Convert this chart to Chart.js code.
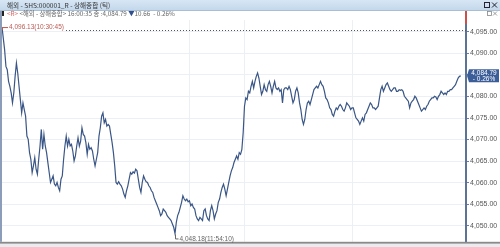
<!DOCTYPE html>
<html><head><meta charset="utf-8">
<script src="https://cdn.jsdelivr.net/npm/chart.js@4/dist/chart.umd.min.js"></script>
<style>
html,body{margin:0;padding:0;background:#fff;overflow:hidden}
#wrap{position:relative;width:500px;height:247px}
canvas{display:block}
</style></head><body>
<div id="wrap"><canvas id="c" width="500" height="247"></canvas></div>
<script>
const titleText = '해외 - SHS:000001_R - 상해종합 (틱)';
const infoParts = [['<R>', '#d4605a'], [' <해외 - 상해종합> 16:00:35 종 :4,084.79 ', '#666'], ['▼', '#2f4f8f'], ['10.66', '#666'], ['  - 0.26%', '#666']];

const morningA = [4096.13,4093.5,4090.84,4086.99,4086.22,4083.52,4082.37,4080.82,4078.51,4080.82,4084.68,4087.76,4085.45,4082.37,4079.28,4076.20,4078.51,4076.97,4075.43,4070.81,4070.04,4066.96,4065.42,4062.33,4063.88,4065.80,4063.10,4061.95,4065.42,4068.50,4072.35,4067.73,4071.19,4068.50,4066.96,4064.65,4062.33,4060.02,4060.79,4061.56,4059.64,4059.25,4060.02,4058.87,4058.10,4060.79,4061.56,4065.42,4068.50,4070.81,4068.50,4070.04,4068.50,4068.88,4067.34,4065.03,4066.19,4068.50,4070.42,4068.50,4069.65,4072.73,4071.19,4070.81,4069.27,4066.57,4068.88,4067.73,4068.11,4067.34,4065.42,4063.88,4065.42,4066.96,4070.81,4072.73,4075.43,4076.20,4073.89,4074.66,4073.12,4073.50,4073.12,4071.19];
const morningB = [4069.27,4066.96,4063.88,4060.02,4059.64,4060.18,4059.64,4059.25,4058.48,4057.33,4056.56,4058.10,4059.25,4060.79,4062.33,4061.95,4062.49,4062.18,4063.10,4062.72,4060.79,4058.87,4057.71,4060.02,4061.56,4060.79,4060.18,4060.02,4059.25,4058.87,4058.10,4057.71,4056.56,4055.79,4055.02,4054.24,4053.47,4052.32,4052.70,4053.86,4053.47,4053.09,4052.32,4051.93,4051.55,4051.16,4050.39,4049.62,4048.18,4050.78,4052.32,4053.09,4054.24,4055.40,4056.94,4056.17,4055.79,4056.17,4055.55,4055.79,4054.63,4055.02,4054.24,4053.86,4052.32,4051.55,4051.16,4051.93,4051.55,4051.16,4053.47,4053.86,4052.32,4051.55,4051.16,4053.47,4054.63,4053.47,4051.55,4052.70,4053.47,4055.40,4056.17];
const afternoonA = [4057.71,4058.87,4059.64,4058.48,4056.94,4058.48,4060.02,4061.56,4062.72,4063.49,4064.65,4065.42,4066.19,4065.42,4066.96,4066.57,4067.73,4071.58,4077.74,4079.67,4079.28,4081.21,4080.82,4082.37,4083.52,4081.98,4083.52,4084.68,4085.45,4084.29,4082.37,4080.44,4081.21,4082.75,4081.59,4081.21,4082.75,4083.52,4082.37,4080.82,4082.37,4083.52,4081.98,4081.59,4081.98,4081.21,4081.59,4078.51,4081.59,4081.98,4081.98,4081.59,4082.37,4081.59,4080.05,4078.51,4079.28,4081.21,4081.98,4080.82,4078.51,4076.97,4074.66,4073.51,4074.66,4076.97,4078.51,4078.90,4078.13,4079.28,4080.44,4081.59,4081.98,4082.37,4081.98,4082.75,4083.52,4082.75,4082.37,4081.21,4079.67,4079.28,4078.51];
const afternoonB = [4077.36,4076.97,4075.82,4075.43,4076.59,4077.36,4076.97,4077.74,4078.13,4077.74,4076.97,4076.59,4077.36,4078.51,4078.13,4077.74,4076.97,4077.36,4077.36,4076.20,4075.05,4074.66,4074.28,4073.51,4074.28,4075.05,4074.28,4075.82,4076.20,4076.97,4077.74,4078.51,4078.13,4077.36,4077.36,4076.97,4077.36,4077.74,4079.67,4081.59,4082.37,4081.21,4081.98,4082.75,4083.14,4082.37,4081.59,4081.21,4081.59,4081.98,4081.98,4081.21,4081.21,4081.59,4081.44,4081.59,4081.21,4080.05,4079.67,4079.28,4078.90,4077.36,4078.51,4078.90,4079.28,4080.05,4079.67,4078.90,4078.13,4077.36,4076.59,4076.97,4077.36,4076.97,4077.74,4078.13,4078.90,4079.28,4079.67,4079.67,4080.05,4079.90,4079.28,4080.05,4080.44,4081.21,4080.82,4080.44,4080.82,4080.44,4081.21,4081.21,4081.59,4081.59,4081.98,4082.37,4082.75,4083.52,4084.29,4084.68,4084.79];

const yTicks = [4050,4055,4060,4065,4070,4075,4080,4085,4090,4095];
const yMin = 4046.24, yMax = 4097.77;
const xMax = 354;
const timeGridIdx = [143, 185, 267];
const prevClose = 4095.45;
const highLabel = '4,096.13(10:30:45)';
const lowLabel = '4,048.18(11:54:10)';
const lastLabel = '4,084.79';
const pctLabel = '- 0.26%';

const series = [].concat(morningA, morningB, afternoonA, afternoonB);
const points = series.map((v, i) => ({x: i, y: v}));
let hiIdx = 0, loIdx = 0;
series.forEach((v, i) => { if (v > series[hiIdx]) hiIdx = i; if (v < series[loIdx]) loIdx = i; });

const fmt = v => v.toLocaleString('en-US', {minimumFractionDigits: 2, maximumFractionDigits: 2});
const KR = '"Noto Sans CJK KR", sans-serif';
const LS = '"Liberation Sans", Arial, sans-serif';

const decor = {
  id: 'decor',
  beforeDraw(chart) {
    const c = chart.ctx;
    c.save();
    c.fillStyle = '#fff'; c.fillRect(0, 0, 500, 247);
    const g = c.createLinearGradient(0, 0, 0, 10);
    g.addColorStop(0, '#d8e6f4'); g.addColorStop(1, '#c3d8ec');
    c.fillStyle = g; c.fillRect(0, 0, 500, 10);
    c.fillStyle = '#a9bdd3'; c.fillRect(0, 10, 500, 1);
    c.font = '6.6px ' + KR; c.fillStyle = '#333'; c.textBaseline = 'middle';
    c.fillText(titleText, 7, 5);
    c.strokeStyle = '#223'; c.lineWidth = 1;
    c.strokeRect(484.5, 2.5, 5, 5);
    c.beginPath(); c.moveTo(492, 2.5); c.lineTo(497, 7.5); c.moveTo(497, 2.5); c.lineTo(492, 7.5); c.stroke();
    c.fillStyle = '#222'; c.fillRect(2, 11, 2, 5);
    c.font = '6.3px ' + KR; c.textBaseline = 'middle';
    let x = 7;
    infoParts.forEach(([t, col]) => { c.fillStyle = col; c.fillText(t, x, 13.5); x += c.measureText(t).width; });
    c.strokeStyle = '#888'; c.lineWidth = 0.8;
    c.strokeRect(487.5, 11.5, 4, 4);
    c.beginPath(); c.moveTo(493, 11.5); c.lineTo(497, 15.5); c.moveTo(497, 11.5); c.lineTo(493, 15.5); c.stroke();
    c.restore();
  },
  beforeDatasetsDraw(chart) {
    const c = chart.ctx, a = chart.chartArea, xs = chart.scales.x, ys = chart.scales.y;
    c.save();
    c.strokeStyle = '#eceff3'; c.lineWidth = 1;
    timeGridIdx.forEach(i => { const px = Math.round(xs.getPixelForValue(i)) + 0.5; c.beginPath(); c.moveTo(px, a.top); c.lineTo(px, a.bottom); c.stroke(); });
    const py = Math.round(ys.getPixelForValue(prevClose)) + 0.5;
    c.strokeStyle = '#555'; c.setLineDash([1, 2]);
    c.beginPath(); c.moveTo(66, py); c.lineTo(a.right, py); c.stroke();
    c.restore();
  },
  afterDraw(chart) {
    const c = chart.ctx, a = chart.chartArea, xs = chart.scales.x, ys = chart.scales.y;
    c.save();
    c.fillStyle = '#8c9dba'; c.fillRect(0, 11, 2, a.bottom - 11);
    c.fillStyle = '#8a8a8a'; c.fillRect(0, a.bottom, 500, 2);
    c.fillStyle = '#e9ebee'; c.fillRect(0, a.bottom + 2, 500, 247 - a.bottom - 2);
    c.fillStyle = '#c9504b'; c.fillRect(a.right - 1, 11, 2, a.top + 4 - 11);
    const hx = xs.getPixelForValue(hiIdx), hy = ys.getPixelForValue(series[hiIdx]);
    c.strokeStyle = '#b85a52'; c.lineWidth = 1;
    c.beginPath(); c.moveTo(hx + 0.5, hy + 3); c.lineTo(hx + 0.5, hy + 0.5); c.lineTo(hx + 6, hy + 0.5); c.stroke();
    c.fillStyle = '#b85a52'; c.font = '6.5px ' + LS; c.textBaseline = 'middle';
    c.fillText(highLabel, hx + 7, hy + 0.5);
    const lx = Math.round(xs.getPixelForValue(loIdx)) + 0.5, ly = ys.getPixelForValue(series[loIdx]);
    c.strokeStyle = '#666';
    c.beginPath(); c.moveTo(lx, ly + 1); c.lineTo(lx, ly + 5.5); c.lineTo(lx + 3, ly + 5.5); c.stroke();
    c.fillStyle = '#666'; c.fillText(lowLabel, lx + 4, ly + 5.5);
    const ty = ys.getPixelForValue(series[series.length - 1]);
    c.fillStyle = '#3c5e98';
    c.beginPath(); c.moveTo(a.right + 1, ty); c.lineTo(a.right + 3, ty - 6.5); c.lineTo(499, ty - 6.5); c.lineTo(499, ty + 6.5); c.lineTo(a.right + 3, ty + 6.5); c.closePath(); c.fill();
    c.fillStyle = '#fff'; c.font = '6.5px ' + LS; c.textAlign = 'center';
    c.fillText(lastLabel, 484, ty - 2.8);
    c.fillText(pctLabel, 484, ty + 3.3);
    c.restore();
  }
};

new Chart(document.getElementById('c'), {
  type: 'line',
  data: { datasets: [{ data: points, borderColor: '#3a5686', borderWidth: 1.2, pointRadius: 0, tension: 0, fill: false }] },
  options: {
    responsive: false, animation: false, events: [],
    layout: { padding: { left: 2, top: 20, right: 0, bottom: 4 } },
    plugins: { legend: { display: false }, tooltip: { enabled: false } },
    scales: {
      x: { type: 'linear', min: 0, max: xMax, display: false },
      y: {
        position: 'right', min: yMin, max: yMax,
        afterBuildTicks: s => { s.ticks = yTicks.map(v => ({ value: v })); },
        afterFit: s => { s.width = 34; },
        ticks: { callback: v => fmt(v), color: '#555', padding: 1, font: { size: 7, family: LS } },
        grid: { color: '#eceff3', tickColor: '#6a7fa0', tickLength: 3, drawTicks: true },
        border: { color: '#5d7396', width: 2 }
      }
    }
  },
  plugins: [decor]
});
</script>
</body></html>
